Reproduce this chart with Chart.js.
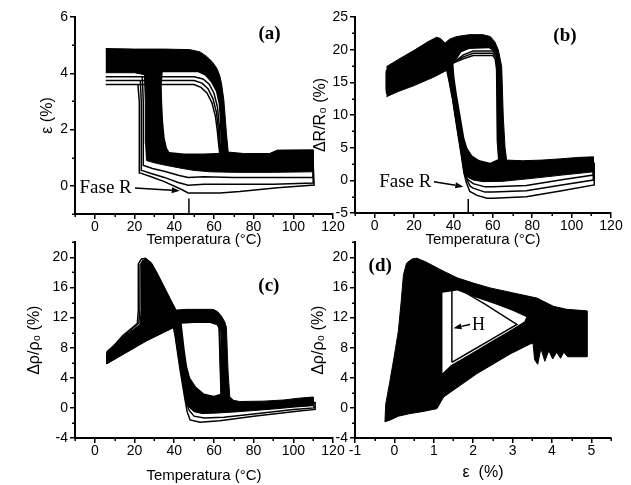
<!DOCTYPE html>
<html>
<head>
<meta charset="utf-8">
<script src="https://cdn.jsdelivr.net/npm/chart.js@4.4.0/dist/chart.umd.min.js"></script>
<style>
  html, body { margin: 0; padding: 0; background: #fff; }
  #fig { position: relative; width: 631px; height: 485px; overflow: hidden; }
  #fig canvas { position: absolute; }
</style>
</head>
<body>
<div id="fig">
  <canvas id="panelA" width="345" height="250" style="left:0;top:0"></canvas>
  <canvas id="panelB" width="331" height="250" style="left:300px;top:0"></canvas>
  <canvas id="panelC" width="345" height="253" style="left:0;top:232px"></canvas>
  <canvas id="panelD" width="331" height="253" style="left:300px;top:232px"></canvas>
</div>
<script>
// ---------------------
// Tick labels
// ---------------------
const tempTicks = [0, 20, 40, 60, 80, 100, 120];
const strainTicks = [0, 2, 4, 6];
const resistTicks = [-5, 0, 5, 10, 15, 20, 25];
const rhoTicks = [-4, 0, 4, 8, 12, 16, 20];
const strainTicksD = [-1, 0, 1, 2, 3, 4, 5];

// ---------------------
// (a) strain vs temperature  [T, eps]
// band = region covered by the dense cycles, hole = open inside of the loop
// ---------------------
const aBand = [[5.5,4.88],[20,4.86],[35,4.86],[48,4.84],[53,4.76],[56.3,4.6],[59,4.42],[61.3,4.2],[62.8,3.95],[63.8,3.65],[65,3.05],[66.3,1.87],[67.2,1.2],[75,1.15],[88,1.15],[92,1.27],[110,1.28],[110,0.5],[90,0.48],[70,0.48],[58,0.5],[50,0.55],[44,0.62],[38,0.7],[31,0.8],[26,0.9],[25.6,1.5],[25.4,3.0],[25,3.95],[20,4.02],[5.5,4.02]];
const aHole = [[34.2,4.04],[52,4.04],[55.5,3.92],[58.5,3.68],[61,3.35],[62.4,2.9],[63,2.3],[63.3,1.6],[63.5,1.18],[55,1.15],[45,1.15],[37.5,1.2],[36.3,1.35],[35.2,1.7],[34.4,2.3],[33.9,3.0],[33.7,3.6]];
const aCycle1 = [[5.5,3.88],[50,3.88],[54.5,3.8],[57.5,3.62],[60,3.3],[61.8,2.8],[62.6,2.2],[63,1.6],[63.5,1.12],[70,0.9],[90,0.85],[110,0.9],[110,0.3],[90,0.3],[70,0.3],[55,0.32],[47,0.3],[42,0.38],[35,0.52],[29,0.62],[24.7,0.72],[24.5,1.5],[24.3,3.0],[23.9,3.88],[5.5,3.88]];
const aCycle2 = [[5.5,3.74],[50,3.74],[54,3.65],[57,3.45],[59.5,3.1],[61.3,2.6],[62.3,2.0],[62.8,1.5],[63.3,1.12],[70,0.85],[90,0.8],[110,0.85],[110,0.1],[90,0.06],[70,0.06],[55,0.06],[47,0.02],[42,0.12],[35,0.3],[28,0.45],[23.7,0.55],[23.5,1.5],[23.3,3.0],[22.9,3.74],[5.5,3.74]];
const aCycle3 = [[5.5,3.6],[50,3.6],[53.5,3.5],[56.5,3.3],[59,2.95],[60.8,2.45],[61.8,1.9],[62.5,1.4],[63,1.12],[70,0.8],[90,0.75],[110,0.8],[110.5,0.03],[92,-0.07],[73,-0.2],[63,-0.25],[47,-0.25],[44,-0.14],[35,0.15],[28,0.33],[22.7,0.46],[22.5,1.5],[22.3,3.0],[21.7,3.6],[5.5,3.6]];

// ---------------------
// (b) resistance vs temperature  [T, dR/R0]
// ---------------------
const bBand = [[6,17.4],[12,18.5],[20,19.9],[27,21.2],[31.4,21.9],[33.5,21.7],[35.7,21.0],[38,21.6],[41.6,22.0],[48,22.3],[55,22.3],[58.7,22.0],[61,21.2],[62.8,19.95],[64.5,17.4],[65.3,9.7],[66.2,5],[67,3.1],[75,3.0],[85,3.1],[95,3.3],[103,3.5],[111,3.6],[111,1.3],[95,0.8],[80,0.3],[65,-0.15],[55,-0.2],[50,0.05],[47,0.5],[45.8,0.9],[45,2.5],[43.5,5.1],[41,9.7],[38.7,14.3],[37,16.9],[30,15.8],[20,14.5],[12,13.6],[6,12.8]];
const bHole = [[40,17.8],[44,19.6],[48,20.1],[58,20.2],[61.2,19.6],[62.6,17.5],[62.8,10],[63.1,3.3],[58.6,2.7],[53,3.1],[49.5,3.8],[47,5.0],[45.5,6.5],[44.4,8.5],[43,11],[41.6,13.5],[40.5,15.8]];
const bCycle1 = [[6,13.3],[20,15.0],[37,17.3],[45,19.2],[50,19.8],[60,19.8],[61.8,19.2],[62.5,17.5],[62.7,12],[62.9,6],[63.4,3.2],[67,2.6],[80,2.6],[111,3.0],[111,0.8],[95,0.1],[77,-0.8],[60,-1.0],[56,-1.0],[50,-0.5],[47,0.2],[45.8,1.0],[44.4,3.8],[42.2,8],[40,12.3],[38,15.5],[36.5,17.6],[33.5,21.0],[31.4,21.5],[20,19.6],[6,16.8],[6,13.3]];
const bCycle2 = [[6,13.6],[20,15.2],[37,17.5],[45,18.9],[50,19.45],[60,19.45],[61.5,18.9],[62.2,17.2],[62.4,12],[62.6,6],[63.2,3.2],[67,2.4],[80,2.4],[111,2.8],[111,0.05],[95,-0.7],[77,-1.6],[60,-1.8],[56,-1.8],[50,-1.2],[48.5,-0.9],[46.5,0.3],[45.5,1.2],[44.2,3.8],[42,8],[39.8,12.3],[37.8,15.5],[36.3,17.6],[33.3,21.0],[31.2,21.4],[20,19.5],[6,16.6],[6,13.6]];
const bCycle3 = [[6,13.9],[20,15.4],[37,17.6],[45,18.6],[50,19.1],[60,19.1],[61.2,18.6],[61.9,17],[62.1,12],[62.3,6],[63,3.2],[67,2.2],[80,2.2],[111.5,2.6],[111.5,-0.7],[95,-1.6],[77,-2.5],[60,-2.75],[57,-2.75],[52,-2.3],[48.3,-1.7],[46.5,-0.3],[45.3,1.2],[44,3.8],[41.8,8],[39.6,12.3],[37.6,15.5],[36.1,17.6],[33.1,21.0],[31,21.3],[20,19.4],[6,16.4],[6,13.9]];

// ---------------------
// (c) resistivity vs temperature  [T, drho/rho0]
// ---------------------
const cBand = [[6,5.85],[6,7.5],[14,9.4],[22.7,11.1],[23.4,13],[23.5,19.0],[24.4,19.6],[25.8,19.85],[28.5,19.3],[31.5,17.9],[34.4,16.4],[38.6,14.2],[41,13.0],[46,13.1],[59.6,13.1],[61.8,12.8],[63.8,12.2],[65.5,11.4],[66.3,10.7],[66.8,7],[67.2,4.5],[68,1.45],[70,1.0],[73,0.85],[85,0.9],[95,1.05],[103,1.3],[110,1.45],[110,0.3],[100,0.1],[90,-0.15],[80,-0.35],[70,-0.55],[60,-0.7],[54,-0.75],[50,-0.5],[47.5,0.1],[46.2,0.6],[43.7,4.1],[41.5,7.8],[39.9,10.7],[26,8.9],[6,5.85]];
const cHole = [[43.8,11.2],[50,11.3],[58,11.3],[61.5,11.0],[63.2,10.2],[63.4,6],[63.7,1.9],[60,1.6],[55,1.9],[51,2.8],[48,4.0],[46.5,5.5],[45.3,7.7],[44.4,9.8]];
const cCycle1 = [[6,7.0],[6,6.2],[26,9.3],[46,12.0],[58,12.2],[61.5,11.8],[62.8,10.8],[63.3,6],[63.8,1.6],[70,0.6],[90,0.5],[110,0.9],[110.5,0.0],[100,-0.2],[80,-0.8],[65,-1.25],[55,-1.35],[50,-1.1],[47.5,-0.3],[46,0.8],[43.5,5],[41,9.5],[38,13.5],[34,16.2],[29,18.8],[26,19.7],[24.3,19.6],[22.8,19.0],[22.7,13],[22.2,11.3],[14,9.5],[6,7.0]];
const cCycle2 = [[6,7.2],[6,6.0],[26,9.1],[46,11.8],[58,12.0],[61.5,11.6],[62.6,10.6],[63.1,6],[63.6,1.6],[70,0.5],[90,0.4],[111,0.7],[111,-0.2],[103,-0.4],[80,-1.1],[63,-1.7],[53,-1.9],[48,-1.6],[46.5,-0.5],[45.5,1.0],[43,5],[40.5,9.5],[37.5,13.5],[33.5,16.3],[28.5,19.0],[25.5,19.9],[23.5,19.8],[22.0,19.2],[21.9,13],[21.4,11.2],[14,9.6],[6,7.2]];

// ---------------------
// (d) resistivity vs strain  [eps, drho/rho0]
// ---------------------
const dBand = [[-0.24,-1.85],[-0.22,0.5],[-0.11,3.65],[0.0,7.0],[0.1,10.2],[0.17,14.0],[0.23,17.7],[0.31,19.25],[0.45,19.8],[0.57,19.9],[0.8,19.4],[1.2,18.3],[1.59,17.3],[2.0,16.6],[2.43,15.95],[3.0,15.3],[3.62,14.6],[4.04,13.5],[4.38,13.1],[4.89,12.9],[4.89,6.8],[4.4,6.8],[4.3,7.4],[4.22,6.6],[4.12,7.4],[4.02,6.5],[3.92,7.6],[3.82,6.2],[3.72,7.9],[3.64,5.8],[3.56,6.4],[3.52,8.6],[3.45,8.5],[2.94,7.17],[2.09,4.53],[1.25,1.45],[1.08,-0.1],[0.7,-0.5],[0.4,-0.75],[0.1,-1.1],[-0.1,-1.6],[-0.24,-1.85]];
const dHole = [[1.22,4.6],[1.22,15.3],[1.6,15.6],[2.1,14.6],[2.6,13.7],[3.0,12.9],[3.35,12.1],[3.3,11.5],[2.9,10.2],[2.43,8.75],[1.9,7.1],[1.44,5.7]];
const dCycleH = [[1.46,6.06],[1.46,15.95],[1.6,15.95],[2.3,13.8],[3.11,11.1],[2.43,9.0],[1.9,7.4],[1.46,6.06]];

// ---------------------
// Helpers
// ---------------------
Chart.defaults.font.family = "'Liberation Sans', Arial, 'DejaVu Sans', sans-serif";
Chart.defaults.color = '#000';

const toXY = pts => pts.map(p => ({ x: p[0], y: p[1] }));

function shapeSet(pts, color, order) {
  return {
    data: toXY(pts), order: order, fill: 'shape',
    backgroundColor: color,
    borderColor: color === '#000' ? '#000' : 'rgba(0,0,0,0)',
    borderWidth: color === '#000' ? 1 : 0,
    pointRadius: 0, tension: 0
  };
}

function cycleSet(pts) {
  return { data: toXY(pts), order: 1, fill: false, borderColor: '#000', borderWidth: 1.5, pointRadius: 0, tension: 0 };
}

function axis(a, dir) {
  return {
    type: 'linear',
    position: dir === 'x' ? 'bottom' : 'left',
    min: a.min, max: a.max,
    afterBuildTicks: s => { s.ticks = a.ticks.map(v => ({ value: v })); },
    afterFit: s => { if (dir === 'x') s.height = a.size; else s.width = a.size; },
    border: { display: true, color: '#000', width: 2 },
    grid: { drawOnChartArea: false, drawTicks: true, tickLength: 5, color: '#000', lineWidth: 1.5 },
    ticks: { color: '#000', font: { size: 14 }, padding: dir === 'x' ? 0 : 2, autoSkip: false, maxRotation: 0 },
    title: {
      display: true, text: a.title, color: '#000', font: { size: a.titleSize },
      padding: dir === 'x' ? { top: 0, bottom: a.titlePad } : { top: a.titlePad, bottom: 0 }
    }
  };
}

// small ticks half way between the labelled ones
const minorTicks = {
  id: 'minorTicks',
  afterDraw(chart) {
    const { ctx, chartArea } = chart;
    ctx.save();
    ctx.strokeStyle = '#000';
    ctx.lineWidth = 1.5;
    ['x', 'y'].forEach(id => {
      const s = chart.scales[id];
      const v = s.ticks.map(t => t.value);
      const half = (v[1] - v[0]) / 2;
      for (let m = v[0] - half; m <= s.max + 1e-6; m += 2 * half) {
        if (m < s.min - 1e-6) continue;
        const p = Math.round(s.getPixelForValue(m)) + 0.25;
        ctx.beginPath();
        if (id === 'x') { ctx.moveTo(p, chartArea.bottom); ctx.lineTo(p, chartArea.bottom + 3); }
        else { ctx.moveTo(chartArea.left, p); ctx.lineTo(chartArea.left - 3, p); }
        ctx.stroke();
      }
    });
    ctx.restore();
  }
};

// panel letters, "Fase R" / "H" notes with arrows
const notes = {
  id: 'notes',
  afterDatasetsDraw(chart, args, opts) {
    const { ctx } = chart;
    const xs = chart.scales.x, ys = chart.scales.y;
    const P = p => [xs.getPixelForValue(p[0]), ys.getPixelForValue(p[1])];
    ctx.save();
    ctx.strokeStyle = '#000';
    ctx.fillStyle = '#000';
    (opts.marks || []).forEach(m => {
      const a = P(m[0]), b = P(m[1]);
      ctx.lineWidth = 1.5;
      ctx.beginPath(); ctx.moveTo(a[0], a[1]); ctx.lineTo(b[0], b[1]); ctx.stroke();
    });
    (opts.arrows || []).forEach(m => {
      const a = P(m[0]), b = P(m[1]);
      const ang = Math.atan2(b[1] - a[1], b[0] - a[0]);
      const hl = 8, hw = 3;
      const bx = b[0] - hl * Math.cos(ang), by = b[1] - hl * Math.sin(ang);
      ctx.lineWidth = 1.5;
      ctx.beginPath(); ctx.moveTo(a[0], a[1]); ctx.lineTo(bx, by); ctx.stroke();
      ctx.beginPath();
      ctx.moveTo(b[0], b[1]);
      ctx.lineTo(bx + hw * Math.sin(ang), by - hw * Math.cos(ang));
      ctx.lineTo(bx - hw * Math.sin(ang), by + hw * Math.cos(ang));
      ctx.closePath(); ctx.fill();
    });
    (opts.labels || []).forEach(t => {
      const p = P(t.at);
      ctx.font = t.font;
      ctx.textAlign = t.align || 'center';
      ctx.textBaseline = 'middle';
      ctx.fillText(t.text, p[0], p[1]);
    });
    ctx.restore();
  }
};

const letterFont = "bold 19px 'Liberation Serif', 'Times New Roman', serif";
const noteFont = "19px 'Liberation Serif', 'Times New Roman', serif";

function panel(id, o) {
  const datasets = [shapeSet(o.band, '#000', 3), shapeSet(o.hole, '#fff', 2)];
  o.cycles.forEach(c => datasets.push(cycleSet(c)));
  return new Chart(document.getElementById(id), {
    type: 'line',
    data: { datasets: datasets },
    options: {
      responsive: false,
      animation: false,
      events: [],
      layout: { padding: o.pad },
      plugins: { legend: { display: false }, tooltip: { enabled: false }, notes: o.notes },
      scales: { x: axis(o.x, 'x'), y: axis(o.y, 'y') }
    },
    plugins: [minorTicks, notes]
  });
}

// ---------------------
// Build the four panels
// ---------------------
panel('panelA', {
  band: aBand, hole: aHole, cycles: [aCycle1, aCycle2, aCycle3],
  pad: { left: 0, top: 17, right: 12, bottom: 0 },
  x: { min: -10, max: 120, ticks: tempTicks, size: 36, title: 'Temperatura (°C)', titleSize: 15, titlePad: 1 },
  y: { min: -1, max: 6, ticks: strainTicks, size: 75, title: 'ε (%)', titleSize: 16, titlePad: 38.4 },
  notes: {
    marks: [[[47.4, -0.45], [47.4, -1]]],
    arrows: [[[20.2, -0.08], [42.8, -0.17]]],
    labels: [
      { text: '(a)', at: [88, 5.4], font: letterFont },
      { text: 'Fase R', at: [18.6, -0.07], font: noteFont, align: 'right' }
    ]
  }
});

panel('panelB', {
  band: bBand, hole: bHole, cycles: [bCycle1, bCycle2, bCycle3],
  pad: { left: 0, top: 17, right: 20, bottom: 0 },
  x: { min: -10, max: 120, ticks: tempTicks, size: 37, title: 'Temperatura (°C)', titleSize: 15, titlePad: 1 },
  y: { min: -5, max: 25, ticks: resistTicks, size: 55, title: 'ΔR/R₀ (%)', titleSize: 16, titlePad: 11.4 },
  notes: {
    marks: [[[47.5, -2.85], [47.5, -5]]],
    arrows: [[[30.1, -0.2], [45, -0.97]]],
    labels: [
      { text: '(b)', at: [96.6, 22.1], font: letterFont },
      { text: 'Fase R', at: [28.8, -0.2], font: noteFont, align: 'right' }
    ]
  }
});

panel('panelC', {
  band: cBand, hole: cHole, cycles: [cCycle1, cCycle2],
  pad: { left: 0, top: 9, right: 12, bottom: 0 },
  x: { min: -10, max: 120, ticks: tempTicks, size: 47, title: 'Temperatura (°C)', titleSize: 15, titlePad: 0 },
  y: { min: -4, max: 22, ticks: rhoTicks, size: 75, title: 'Δρ/ρ₀ (%)', titleSize: 16, titlePad: 25.4 },
  notes: {
    labels: [{ text: '(c)', at: [87.7, 16.2], font: letterFont }]
  }
});

panel('panelD', {
  band: dBand, hole: dHole, cycles: [dCycleH],
  pad: { left: 0, top: 9, right: 20, bottom: 0 },
  x: { min: -1, max: 5.5, ticks: strainTicksD, size: 47, title: 'ε  (%)', titleSize: 16, titlePad: 2.5 },
  y: { min: -4, max: 22, ticks: rhoTicks, size: 55, title: 'Δρ/ρ₀ (%)', titleSize: 16, titlePad: 9.4 },
  notes: {
    arrows: [[[1.92, 11.1], [1.5, 10.6]]],
    labels: [
      { text: '(d)', at: [-0.36, 18.8], font: letterFont },
      { text: 'H', at: [1.97, 11.0], font: "18px 'Liberation Serif', 'Times New Roman', serif", align: 'left' }
    ]
  }
});
</script>
</body>
</html>
